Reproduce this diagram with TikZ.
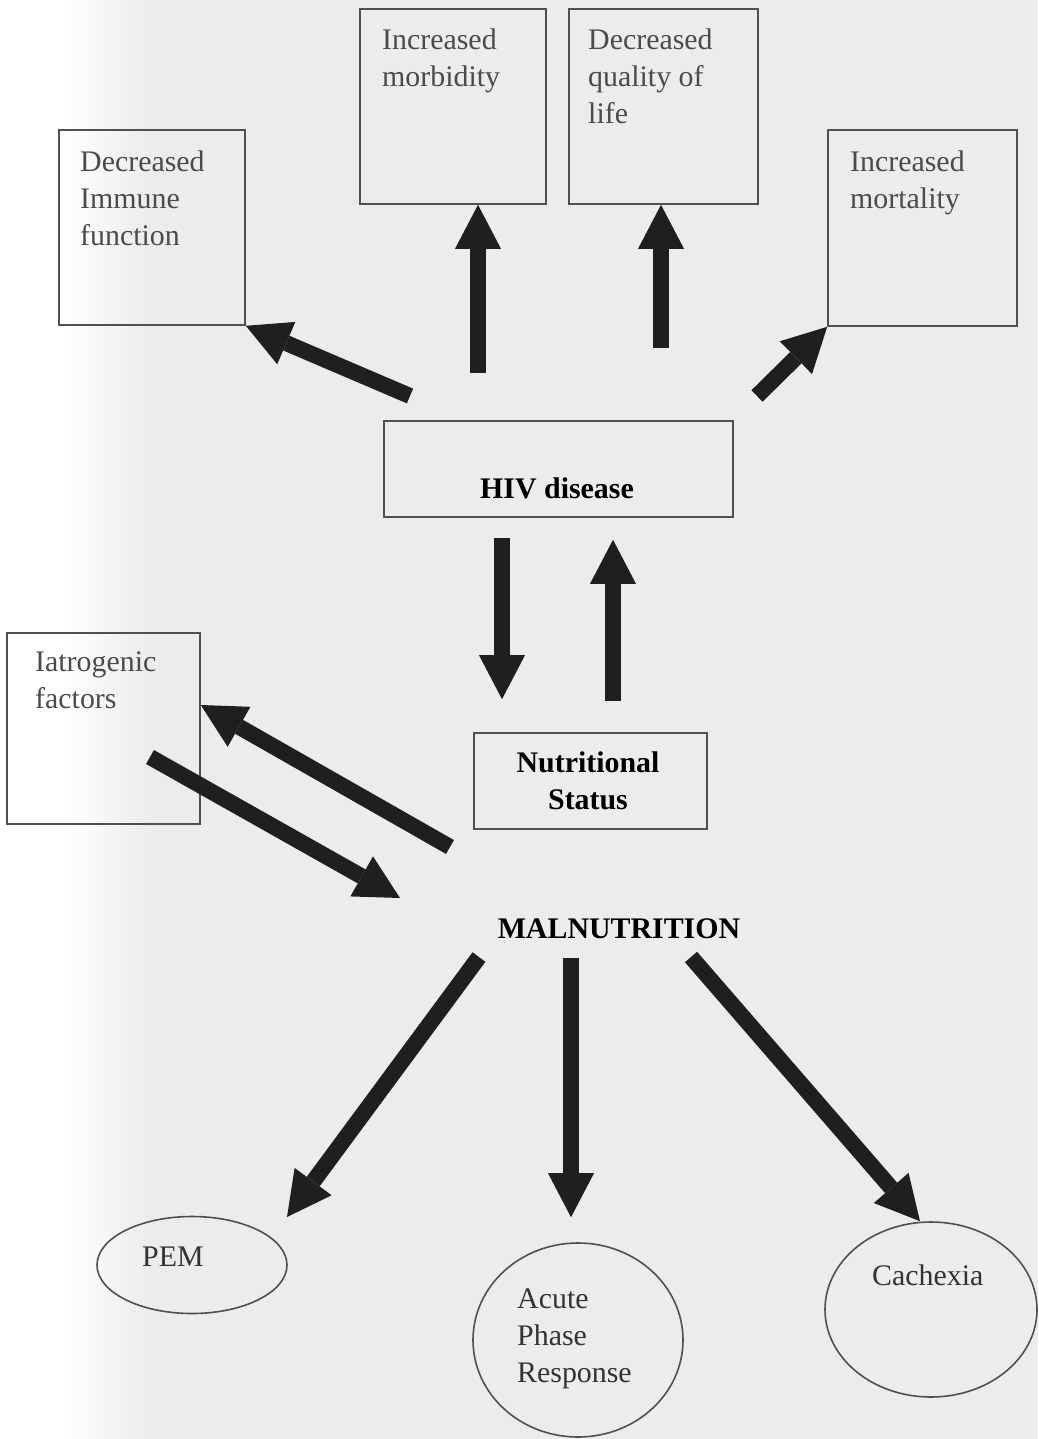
\documentclass[tikz,border=0pt]{standalone}
\usepackage{fontspec}
\setmainfont{Liberation Serif}
\usetikzlibrary{arrows.meta,shapes.geometric,calc}
\definecolor{paper}{RGB}{236,236,236}
\definecolor{boxline}{RGB}{80,80,80}
\definecolor{greytext}{RGB}{75,75,75}
\begin{document}
\begin{tikzpicture}[x=1bp,y=-1bp,
  box/.style={draw=boxline, line width=1.6bp, rectangle, inner sep=0pt},
  ell/.style={draw=boxline, line width=1.6bp, ellipse, inner sep=0pt},
  txt/.style={anchor=north west, inner sep=0pt, align=left, text=greytext, font=\fontsize{30}{37}\selectfont},
  btxt/.style={inner sep=0pt, align=center, text=black, font=\fontsize{30}{37}\selectfont\bfseries},
  bigarrow/.style={line width=16bp, draw=black!88, -{Triangle[width=46bp 0 0,length=44bp 0 0,line width=0pt]}}
]
% page
\useasboundingbox (0,0) rectangle (1038,1439);
\fill[paper] (0,0) rectangle (1038,1439);
\fill[white] (0,0) rectangle (60,1439);
\shade[left color=white, right color=paper] (60,0) rectangle (150,1439);

% boxes
\node[box, minimum width=186bp, minimum height=195bp] (imm)  at (152,227.5) {};
\node[box, minimum width=186bp, minimum height=195bp] (mor)  at (453,106.5) {};
\node[box, minimum width=189bp, minimum height=195bp] (qol)  at (663.5,106.5) {};
\node[box, minimum width=189bp, minimum height=196bp] (mort) at (922.5,228) {};
\node[box, minimum width=349bp, minimum height=96bp]  (hiv)  at (558.5,469) {};
\node[box, minimum width=193bp, minimum height=191bp] (iat)  at (103.5,728.5) {};
\node[box, minimum width=233bp, minimum height=96bp]  (nut)  at (590.5,781) {};

% box texts
\node[txt] (immt)  at (80,151)  {Decreased\\Immune\\function};
\node[txt] (mort1) at (382,29)  {Increased\\morbidity};
\node[txt] (qolt)  at (588,29)  {Decreased\\quality of\\life};
\node[txt] (mortt) at (850,151) {Increased\\mortality};
\node[txt] (iatt)  at (35,652)  {Iatrogenic\\factors};
\node[btxt, anchor=base] (hivt) at (557,498) {HIV disease};
\node[btxt, anchor=north] (nutt) at (588,752) {Nutritional\\Status};
\node[btxt, anchor=base] (mal) at (619,938) {MALNUTRITION};

% ellipses
\node[ell, minimum width=190bp, minimum height=97bp]  (pem)   at (192,1265) {};
\node[ell, minimum width=210bp, minimum height=194bp] (acute) at (578,1340) {};
\node[ell, minimum width=212bp, minimum height=175bp] (cach)  at (931,1309.5) {};
\node[txt, text=black!80] (pemt)   at (142,1247)  {PEM};
\node[txt, text=black!80] (acutet) at (517,1289)  {Acute\\Phase\\Response};
\node[txt, text=black!80] (cacht)  at (872,1265)  {Cachexia};

% arrow coordinates
\coordinate (t1) at (410,396);
\coordinate (t2) at (478,373);
\coordinate (t3) at (661,348);
\coordinate (t4) at (757,396);
\coordinate (c5) at (502,600);
\coordinate (c6) at (613,600);
\coordinate (t7) at (450,847);
\coordinate (t8) at (150,757);
\coordinate (h8) at (400,898);
\coordinate (t9) at (479,957);
\coordinate (h9) at (287,1217);
\coordinate (c10) at (571,1000);
\coordinate (t11) at (691,957);

% arrows
\draw[bigarrow] (t1) -- (imm.south east);
\draw[bigarrow] (t2) -- (t2 |- mor.south);
\draw[bigarrow] (t3) -- (t3 |- qol.south);
\draw[bigarrow] (t4) -- (mort.south west);
\draw[bigarrow, shorten <=20bp, shorten >=33bp] (c5 |- hiv.south) -- (c5 |- nut.north);
\draw[bigarrow, shorten <=31bp, shorten >=22bp] (c6 |- nut.north) -- (c6 |- hiv.south);
\draw[bigarrow] (t7) -- ($(iat.east)+(0,-23.5)$);
\draw[bigarrow] (t8) -- (h8);
\draw[bigarrow] (t9) -- (h9);
\draw[bigarrow, shorten <=19bp, shorten >=25bp] (c10 |- mal.south) -- (c10 |- acute.north);
\draw[bigarrow] (t11) -- ($(cach.north)+(-11,0)$);
\end{tikzpicture}
\end{document}
